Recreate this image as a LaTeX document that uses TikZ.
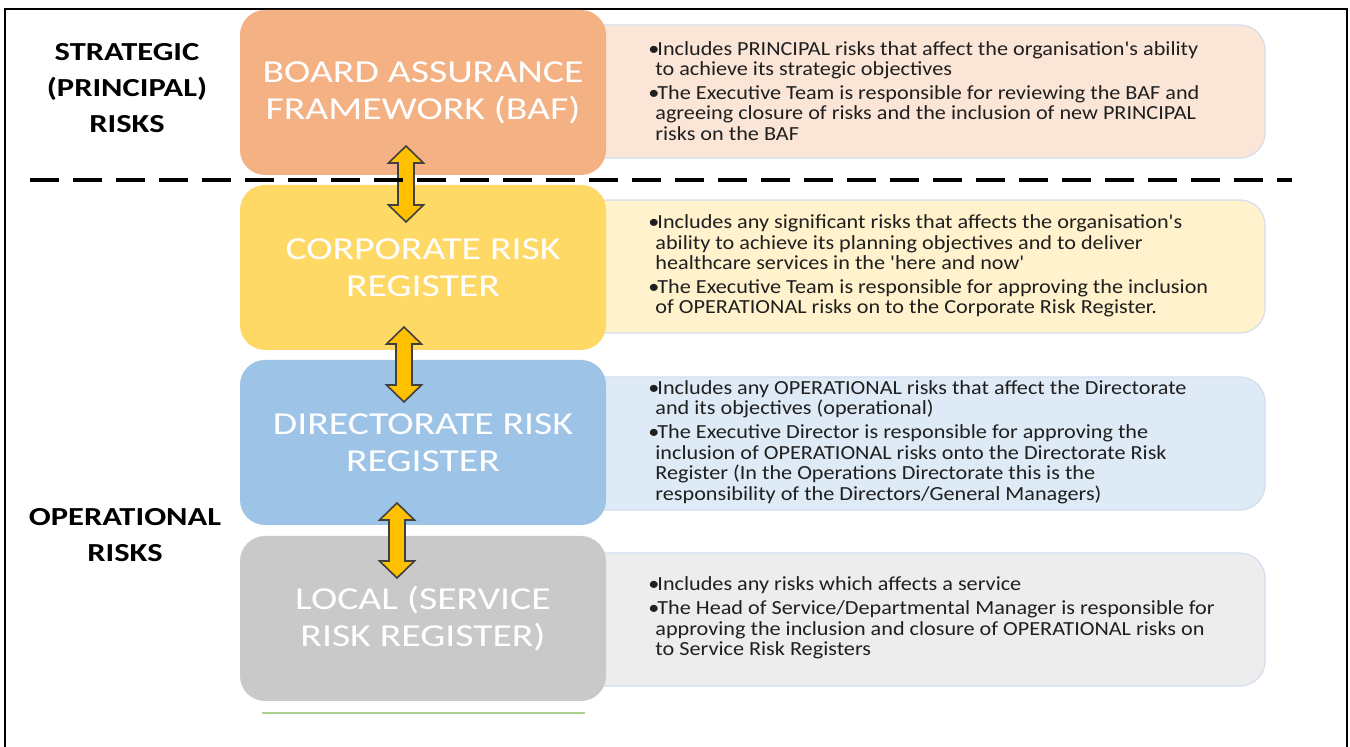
\documentclass[tikz,border=0pt]{standalone}
\usepackage{fontspec}
\newfontfamily\regfont{Carlito}[FakeStretch=1.24]
\newfontfamily\notefont{Carlito}[FakeStretch=1.11]
\newfontfamily\sidefont{Carlito}[FakeStretch=1.25]
\usetikzlibrary{calc, positioning}

\definecolor{bafcol}{HTML}{F4B183}
\definecolor{corpcol}{HTML}{FFD966}
\definecolor{dircol}{HTML}{9DC3E6}
\definecolor{loccol}{HTML}{C9C9C9}
\definecolor{bafnote}{HTML}{FBE5D6}
\definecolor{corpnote}{HTML}{FFF2CC}
\definecolor{dirnote}{HTML}{DEEBF7}
\definecolor{locnote}{HTML}{EDEDED}
\definecolor{noteedge}{HTML}{D3DEEF}
\definecolor{arrowcol}{HTML}{FFC000}
\definecolor{greencol}{HTML}{A9D18E}

\tikzset{
  regbox/.style={rectangle, rounded corners=12.5pt, minimum width=183pt, minimum height=82.5pt,
    inner sep=0pt, text=white, align=center, font=\regfont\fontsize{16}{18.5}\selectfont},
  notebox/.style={rectangle, rounded corners=12.5pt, minimum width=352.5pt, minimum height=66.5pt,
    draw=noteedge, line width=0.6pt},
  notetext/.style={anchor=west, inner sep=0pt, align=left, text=black!88,
    font=\notefont\fontsize{10}{10.3}\selectfont},
  sidelabel/.style={align=center, font=\sidefont\bfseries\fontsize{13}{18}\selectfont},
  updown/.style={fill=arrowcol, draw=black!75, line width=0.8pt, line join=miter},
  dashline/.style={line width=2pt, dash pattern=on 14.5pt off 7pt},
}

% bullet and indent for the note lines
\newcommand{\bul}{\makebox[4.5pt][l]{\textbullet}}
\newcommand{\cont}{\hspace*{3.5pt}}

% block arrow pointing both ways, #1 = top tip, #2 = bottom tip
\newcommand{\dblarrow}[2]{%
  \draw[updown] let \p1=(#1), \p2=(#2) in
    (\x1,\y1) -- (\x1+8.75pt,\y1-8.5pt) -- (\x1+4pt,\y1-8.5pt) -- (\x1+4pt,\y2+8.5pt)
    -- (\x1+8.75pt,\y2+8.5pt) -- (\x1,\y2) -- (\x1-8.75pt,\y2+8.5pt) -- (\x1-4pt,\y2+8.5pt)
    -- (\x1-4pt,\y1-8.5pt) -- (\x1-8.75pt,\y1-8.5pt) -- cycle;}

\begin{document}
\begin{tikzpicture}[x=0.5pt, y=-0.5pt]
\useasboundingbox (0,0) rectangle (1350,747);

% frame
\draw[line width=1pt] (5,747) -- (5,9) -- (1347,9) -- (1347,747);

% notes on the right, partly hidden under the registers
\node[notebox, fill=bafnote]  (n1) at (912.5,91.5)  {};
\node[notebox, fill=corpnote] (n2) at (912.5,266.5) {};
\node[notebox, fill=dirnote]  (n3) at (912.5,443.5) {};
\node[notebox, fill=locnote]  (n4) at (912.5,619.5) {};

% registers
\node[regbox, fill=bafcol]  (baf)  at (423,92.5)  {BOARD ASSURANCE\\FRAMEWORK (BAF)};
\node[regbox, fill=corpcol] (corp) at (423,267.5) {CORPORATE RISK\\REGISTER};
\node[regbox, fill=dircol]  (dir)  at (423,442.5) {DIRECTORATE RISK\\REGISTER};
\node[regbox, fill=loccol]  (loc)  at (423,618.5) {LOCAL (SERVICE\\RISK REGISTER)};

% top edge of the next register
\draw[greencol, line width=1pt] (262,713) -- (585,713);

\node[notetext] (t1) at (648,91) {%
  \bul Includes PRINCIPAL risks that affect the organisation's ability\\
  \cont to achieve its strategic objectives\\[1.5pt]
  \bul The Executive Team is responsible for reviewing the BAF and\\
  \cont agreeing closure of risks and the inclusion of new PRINCIPAL\\
  \cont risks on the BAF};
\node[notetext] (t2) at (648,266) {%
  \bul Includes any significant risks that affects the organisation's\\
  \cont ability to achieve its planning objectives and to deliver\\
  \cont healthcare services in the 'here and now'\\[1.5pt]
  \bul The Executive Team is responsible for approving the inclusion\\
  \cont of OPERATIONAL risks on to the Corporate Risk Register.};
\node[notetext] (t3) at (648,442) {%
  \bul Includes any OPERATIONAL risks that affect the Directorate\\
  \cont and its objectives (operational)\\[1.5pt]
  \bul The Executive Director is responsible for approving the\\
  \cont inclusion of OPERATIONAL risks onto the Directorate Risk\\
  \cont Register (In the Operations Directorate this is the\\
  \cont responsibility of the Directors/General Managers)};
\node[notetext] (t4) at (648,618) {%
  \bul Includes any risks which affects a service\\[1.5pt]
  \bul The Head of Service/Departmental Manager is responsible for\\
  \cont approving the inclusion and closure of OPERATIONAL risks on\\
  \cont to Service Risk Registers};

% side labels
\node[sidelabel] (strat) at (127,88)  {STRATEGIC\\(PRINCIPAL)\\RISKS};
\node[sidelabel] (oper)  at (125,535) {OPERATIONAL\\RISKS};

% arrows between the registers
\coordinate (a1t) at (406,146);
\coordinate (a1b) at (406,222);
\coordinate (a2t) at (404,327);
\coordinate (a2b) at (404,402);
\coordinate (a3t) at (397,503);
\coordinate (a3b) at (397,578);
\dblarrow{a1t}{a1b}
\dblarrow{a2t}{a2b}
\dblarrow{a3t}{a3b}

% split between strategic and operational
\draw[dashline] (30,180) -- (1292,180);

\end{tikzpicture}
\end{document}
